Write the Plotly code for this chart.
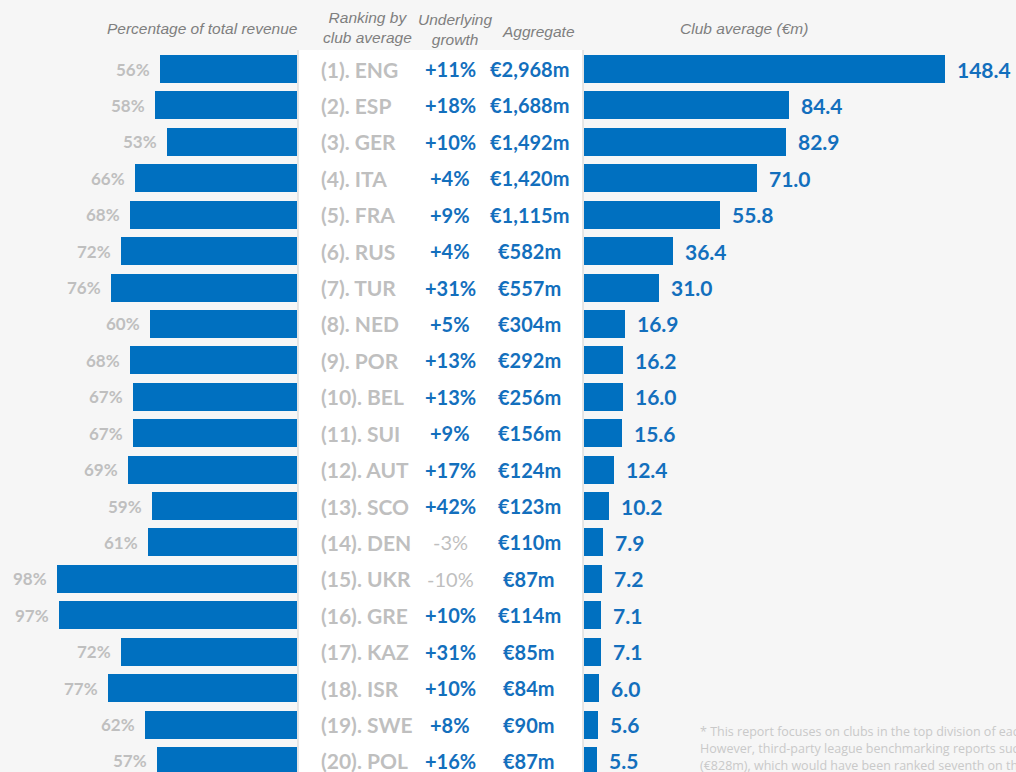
import plotly.graph_objects as go

# League data, ordered by club-average revenue ranking
countries = ["ENG", "ESP", "GER", "ITA", "FRA", "RUS", "TUR", "NED", "POR", "BEL",
             "SUI", "AUT", "SCO", "DEN", "UKR", "GRE", "KAZ", "ISR", "SWE", "POL"]
pct_total_revenue = [56, 58, 53, 66, 68, 72, 76, 60, 68, 67,
                     67, 69, 59, 61, 98, 97, 72, 77, 62, 57]
growth = [11, 18, 10, 4, 9, 4, 31, 5, 13, 13,
          9, 17, 42, -3, -10, 10, 31, 10, 8, 16]
aggregate_m = [2968, 1688, 1492, 1420, 1115, 582, 557, 304, 292, 256,
               156, 124, 123, 110, 87, 114, 85, 84, 90, 87]
club_average_m = [148.4, 84.4, 82.9, 71.0, 55.8, 36.4, 31.0, 16.9, 16.2, 16.0,
                  15.6, 12.4, 10.2, 7.9, 7.2, 7.1, 7.1, 6.0, 5.6, 5.5]

W, H = 1016, 772
BLUE = "#0070C0"
TXT_BLUE = "#136fbd"
GREY = "#bfbfbf"
HEAD = "#7f7f7f"
FONT = "Lato"

rows = list(range(len(countries)))


def px(x):
    return x / W


fig = go.Figure()

fig.add_trace(go.Bar(
    y=rows, x=pct_total_revenue, orientation="h", xaxis="x", yaxis="y",
    marker=dict(color=BLUE, line=dict(width=0)), width=0.77,
    hoverinfo="skip", showlegend=False,
))
fig.add_trace(go.Bar(
    y=rows, x=club_average_m, orientation="h", xaxis="x2", yaxis="y",
    marker=dict(color=BLUE, line=dict(width=0)), width=0.77,
    hoverinfo="skip", showlegend=False,
))

annotations = []
for i, c in enumerate(countries):
    # percentage label left of the left bar
    annotations.append(dict(
        x=pct_total_revenue[i], y=i, xref="x", yref="y", xanchor="right",
        xshift=-8, text=f"{pct_total_revenue[i]}%", showarrow=False,
        font=dict(family=FONT, size=17, color=GREY, weight="bold"),
    ))
    # ranking label
    annotations.append(dict(
        x=px(319), y=i, xref="paper", yref="y", xanchor="left",
        text=f"({i + 1}). {c}", showarrow=False,
        font=dict(family=FONT, size=21, color=GREY, weight="bold"),
    ))
    # underlying growth
    g = growth[i]
    if g >= 0:
        gtxt, gcol, gw = f"+{g}%", TXT_BLUE, "bold"
    else:
        gtxt, gcol, gw = f"-{abs(g)}%", GREY, "normal"
    annotations.append(dict(
        x=px(450), y=i, xref="paper", yref="y", xanchor="center",
        text=gtxt, showarrow=False,
        font=dict(family=FONT, size=20, color=gcol, weight=gw),
    ))
    # aggregate revenue
    annotations.append(dict(
        x=px(529), y=i, xref="paper", yref="y", xanchor="center",
        text=f"€{aggregate_m[i]:,}m", showarrow=False,
        font=dict(family=FONT, size=20, color=TXT_BLUE, weight="bold"),
    ))
    # club average value right of the right bar
    annotations.append(dict(
        x=club_average_m[i], y=i, xref="x2", yref="y", xanchor="left",
        xshift=10, text=f"{club_average_m[i]:.1f}", showarrow=False,
        font=dict(family=FONT, size=21, color=TXT_BLUE, weight="bold"),
    ))

head_font = dict(family="Liberation Sans", size=15.5, color=HEAD, style="italic")
headers = [
    ("Percentage of total revenue", 202, 28),
    ("Ranking by<br>club average", 367, 27),
    ("Underlying<br>growth", 455, 29),
    ("Aggregate", 538, 31),
    ("Club average (€m)", 744, 28),
]
for txt, x, y in headers:
    annotations.append(dict(
        x=px(x), y=1 - y / H, xref="paper", yref="paper", xanchor="center",
        yanchor="middle", text=txt, showarrow=False, font=head_font,
    ))

footnote = [
    "* This report focuses on clubs in the top division of each UEFA member association.",
    "However, third-party league benchmarking reports such as Deloitte's also include the English Championship",
    "(€828m), which would have been ranked seventh on this basis.",
]
for k, line in enumerate(footnote):
    annotations.append(dict(
        x=px(698), y=1 - (731 + 17 * k) / H, xref="paper", yref="paper",
        xanchor="left", yanchor="middle", text=line, showarrow=False,
        font=dict(family="Open Sans", size=12.5, color="#c9c9c9"),
    ))

shapes = [
    dict(type="rect", xref="paper", yref="paper", x0=px(298), x1=px(583),
         y0=0, y1=1 - 50 / H, fillcolor="#ffffff", line=dict(width=0), layer="below"),
    dict(type="line", xref="paper", yref="paper", x0=px(298), x1=px(298),
         y0=0, y1=1 - 50 / H, line=dict(color="#dedede", width=1.5)),
    dict(type="line", xref="paper", yref="paper", x0=px(583), x1=px(583),
         y0=0, y1=1 - 50 / H, line=dict(color="#dedede", width=1.5)),
]

row_px = 36.42
top = -69 / row_px
fig.update_layout(
    width=W, height=H,
    margin=dict(l=0, r=0, t=0, b=0),
    paper_bgcolor="#f6f6f6", plot_bgcolor="rgba(0,0,0,0)",
    xaxis=dict(domain=[0, px(297)], range=[297 / 2.45, 0], visible=False, fixedrange=True),
    xaxis2=dict(domain=[px(584), 1], range=[0, 432 / 2.433], visible=False,
                anchor="y", fixedrange=True),
    yaxis=dict(range=[top + H / row_px, top], visible=False, fixedrange=True),
    annotations=annotations,
    shapes=shapes,
    bargap=0,
)

fig.write_html("out.html")
